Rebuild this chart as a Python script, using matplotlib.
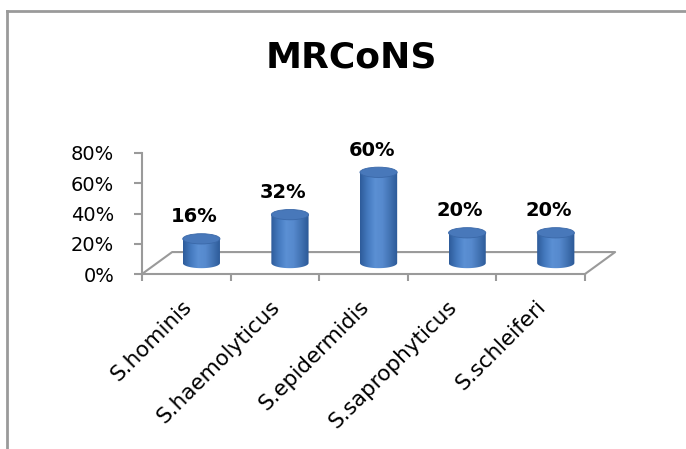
import numpy as np
import matplotlib
matplotlib.use('Agg')
import matplotlib.pyplot as plt
from matplotlib.patches import Ellipse, PathPatch
from matplotlib.path import Path
from matplotlib.lines import Line2D
from matplotlib.colors import LinearSegmentedColormap
from matplotlib.ticker import FuncFormatter

species = ['S.hominis', 'S.haemolyticus', 'S.epidermidis', 'S.saprophyticus', 'S.schleiferi']
pct = [0.16, 0.32, 0.60, 0.20, 0.20]
yticks = [0.0, 0.2, 0.4, 0.6, 0.8]

# floor depth of the pseudo-3D box, in data units
DX, DY = 0.34, 0.145
cyl_w = 0.42      # cylinder diameter (category units)
cyl_eh = 0.068    # height of the end ellipses (value units)

grey = '#9a9a9a'
body_cmap = LinearSegmentedColormap.from_list(
    'cyl', ['#2d5b9a', '#4479be', '#5b90d4', '#5689cd', '#4172b2', '#2b5896'])

fig = plt.figure(figsize=(6.86, 4.49), dpi=100)
ax = fig.add_axes([142/686, 175/449, 443/686, 121/449])

# frame around the chart area
fig.add_artist(Line2D([7/686, 7/686], [0, 1-11/449], color=grey, lw=2))
fig.add_artist(Line2D([7/686, 1], [1-11/449, 1-11/449], color=grey, lw=2))

fig.text(351/686, 1-57/449, 'MRCoNS', ha='center', va='center',
         fontsize=26, fontweight='bold')

# floor outline (back edge + sides)
fx = [-0.5, -0.5+DX, len(species)-0.5+DX, len(species)-0.5]
fy = [0, DY, DY, 0]
ax.plot(fx, fy, color=grey, lw=1.5, clip_on=False, zorder=1)

grad = np.linspace(0, 1, 200).reshape(1, -1)
t = np.linspace(np.pi, 2*np.pi, 40)
for i, v in enumerate(pct):
    cx = i + DX/2
    y0 = DY/2
    x_l, x_r = cx - cyl_w/2, cx + cyl_w/2
    # body outline: sides plus lower half of the base ellipse
    px = np.concatenate([[x_l, x_l], cx + cyl_w/2*np.cos(t), [x_r, x_r]])
    py = np.concatenate([[y0+v, y0], y0 + cyl_eh/2*np.sin(t), [y0, y0+v]])
    verts = np.column_stack([px, py])
    codes = [Path.MOVETO] + [Path.LINETO]*(len(verts)-1)
    body = PathPatch(Path(verts, codes), facecolor='none', edgecolor='none', zorder=3)
    ax.add_patch(body)
    im = ax.imshow(grad, cmap=body_cmap, aspect='auto', zorder=3,
                   extent=[x_l, x_r, y0-cyl_eh, y0+v], interpolation='bilinear')
    im.set_clip_path(body)
    top = Ellipse((cx, y0+v), cyl_w, cyl_eh, facecolor='#4878ba',
                  edgecolor='#3a68a8', lw=0.6, zorder=4)
    ax.add_patch(top)
    ax.annotate(f'{v:.0%}', xy=(cx, y0+v), xytext=(-5, 16),
                textcoords='offset points', ha='center', va='center',
                fontsize=14, fontweight='bold', zorder=5)

ax.set_xlim(-0.5, len(species)-0.5)
ax.set_ylim(0, 0.8)

for s in ['top', 'right']:
    ax.spines[s].set_visible(False)
for s in ['left', 'bottom']:
    ax.spines[s].set_color(grey)
    ax.spines[s].set_linewidth(1.5)

ax.set_yticks(yticks)
ax.yaxis.set_major_formatter(FuncFormatter(lambda y, _: f'{y:.0%}'))
ax.tick_params(axis='y', length=6, width=1.5, color=grey, pad=14, labelsize=14)
ax.set_xticks(np.arange(len(species)+1) - 0.5)
ax.set_xticklabels([])
ax.tick_params(axis='x', length=5, width=1.5, color=grey)

for i, name in enumerate(species):
    ax.annotate(name, xy=(i, 0), xytext=(1.5, -21), textcoords='offset points',
                rotation=45, rotation_mode='anchor', ha='right', va='center',
                fontsize=15.5)

fig.savefig('out.png', dpi=100)
